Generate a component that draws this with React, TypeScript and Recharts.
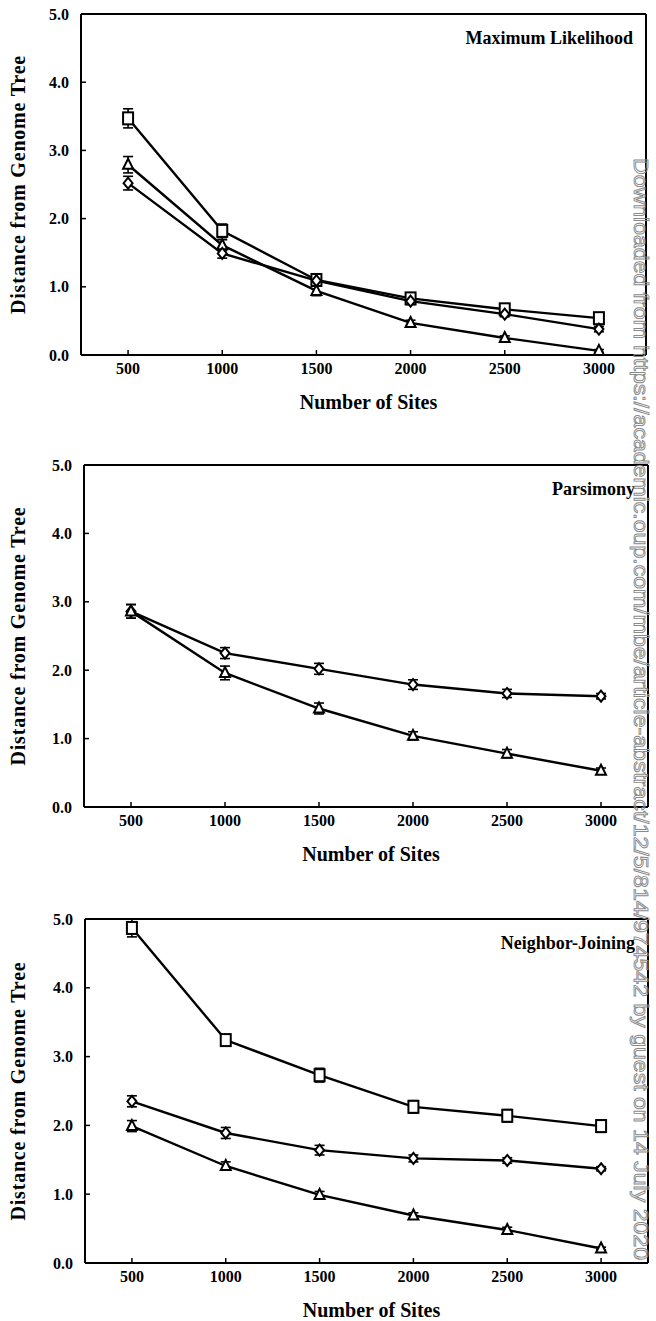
import React from 'react';
import { LineChart, Line, XAxis, YAxis, ErrorBar } from 'recharts';

const sites = [500, 1000, 1500, 2000, 2500, 3000];
const yTicks = [0, 1, 2, 3, 4, 5];

// Maximum Likelihood
const mlSquare = [3.47, 1.82, 1.1, 0.83, 0.67, 0.54];
const mlSquareErr = [0.14, 0.1, 0.09, 0.06, 0.05, 0.06];
const mlTriangle = [2.79, 1.61, 0.94, 0.47, 0.25, 0.06];
const mlTriangleErr = [0.12, 0.08, 0.07, 0.04, 0.03, 0.02];
const mlDiamond = [2.52, 1.49, 1.09, 0.79, 0.6, 0.38];
const mlDiamondErr = [0.1, 0.07, 0.06, 0.05, 0.04, 0.04];

// Parsimony
const mpDiamond = [2.86, 2.25, 2.02, 1.79, 1.66, 1.62];
const mpDiamondErr = [0.1, 0.08, 0.08, 0.07, 0.06, 0.04];
const mpTriangle = [2.86, 1.96, 1.44, 1.04, 0.78, 0.53];
const mpTriangleErr = [0.1, 0.1, 0.08, 0.06, 0.06, 0.04];

// Neighbor-Joining
const njSquare = [4.87, 3.24, 2.73, 2.27, 2.14, 1.99];
const njSquareErr = [0.13, 0.08, 0.1, 0.09, 0.09, 0.09];
const njDiamond = [2.35, 1.89, 1.64, 1.52, 1.49, 1.37];
const njDiamondErr = [0.08, 0.08, 0.07, 0.05, 0.04, 0.03];
const njTriangle = [1.99, 1.41, 0.99, 0.69, 0.48, 0.21];
const njTriangleErr = [0.08, 0.06, 0.05, 0.04, 0.04, 0.02];

const watermark =
  'Downloaded from https://academic.oup.com/mbe/article-abstract/12/5/814/974542 by guest on 14 July 2020';

const FONT = '"Liberation Serif", "Times New Roman", serif';

const SquareDot = (p: any) => {
  const { cx, cy } = p;
  if (cx == null || cy == null) return null;
  return <rect x={cx - 5} y={cy - 6} width={10} height={12} fill="#fff" stroke="#000" strokeWidth={2} />;
};
const TriangleDot = (p: any) => {
  const { cx, cy } = p;
  if (cx == null || cy == null) return null;
  return <polygon points={`${cx},${cy - 6} ${cx + 5},${cy + 4} ${cx - 5},${cy + 4}`} fill="#fff" stroke="#000" strokeWidth={2} />;
};
const DiamondDot = (p: any) => {
  const { cx, cy } = p;
  if (cx == null || cy == null) return null;
  return <polygon points={`${cx},${cy - 5.5} ${cx + 4.5},${cy} ${cx},${cy + 5.5} ${cx - 4.5},${cy}`} fill="#fff" stroke="#000" strokeWidth={2} />;
};

const shapes: Record<string, any> = { sq: SquareDot, tri: TriangleDot, dia: DiamondDot };

const XTitle = (p: any) => {
  const vb = p.viewBox || {};
  return (
    <text x={vb.x + vb.width / 2 + 5} y={vb.y + 54} textAnchor="middle" fontFamily={FONT} fontWeight="bold" fontSize={20} fill="#000">
      Number of Sites
    </text>
  );
};

const YTitle = (p: any) => {
  const vb = p.viewBox || {};
  const cy = vb.y + vb.height / 2;
  return (
    <text x={25} y={cy} transform={`rotate(-90 25 ${cy})`} textAnchor="middle" fontFamily={FONT} fontWeight="bold" fontSize={20} letterSpacing={0.8} fill="#000">
      Distance from Genome Tree
    </text>
  );
};

const PanelTitle = (p: any) => {
  const vb = p.viewBox || {};
  return (
    <text x={vb.x + vb.width - 13} y={vb.y + 31} textAnchor="end" fontFamily={FONT} fontWeight="bold" fontSize={18} fill="#000">
      {p.text}
    </text>
  );
};

type Series = { key: string; values: number[]; errors: number[] };

function Panel({ top, height, plotTop, plotBottom, left, right, title, series }: {
  top: number; height: number; plotTop: number; plotBottom: number; left: number; right: number; title: string; series: Series[];
}) {
  const data = sites.map((s, i) => {
    const row: any = { sites: s };
    series.forEach((sr) => {
      row[sr.key] = sr.values[i];
      row[sr.key + 'Err'] = sr.errors[i];
    });
    return row;
  });
  // the top and right frame axes are 1px thick (zero-size axes are not drawn)
  const mTop = plotTop - top - 1;
  const xAxisH = 30;
  const mBottom = height - (plotBottom - top) - xAxisH;
  const tickStyle = { fill: '#000', fontSize: 16, fontWeight: 700, fontFamily: FONT };
  const axisLine = { stroke: '#000', strokeWidth: 2 };
  const tickLine = { stroke: '#000', strokeWidth: 1.5 };
  return (
    <div style={{ position: 'absolute', left: 0, top }}>
      <LineChart width={656} height={height} data={data} margin={{ top: mTop, right: 656 - right - 1, bottom: mBottom, left: 0 }}>
        <XAxis
          dataKey="sites"
          type="number"
          domain={[250, 3250]}
          ticks={sites}
          height={xAxisH}
          axisLine={axisLine}
          tickLine={tickLine}
          tickSize={-5}
          tickMargin={13}
          tick={tickStyle}
          label={<XTitle />}
        />
        <XAxis
          xAxisId="top"
          dataKey="sites"
          orientation="top"
          type="number"
          domain={[250, 3250]}
          ticks={sites}
          height={1}
          axisLine={axisLine}
          tickLine={tickLine}
          tickSize={-5}
          tick={false}
          label={<PanelTitle text={title} />}
        />
        <YAxis
          type="number"
          domain={[0, 5]}
          ticks={yTicks}
          width={left}
          axisLine={axisLine}
          tickLine={tickLine}
          tickSize={-5}
          tickMargin={17}
          tick={tickStyle}
          tickFormatter={(v: number) => v.toFixed(1)}
          label={<YTitle />}
        />
        <YAxis
          yAxisId="right"
          orientation="right"
          type="number"
          domain={[0, 5]}
          ticks={yTicks}
          width={1}
          axisLine={axisLine}
          tickLine={tickLine}
          tickSize={-5}
          tick={false}
        />
        {/* invisible series bound to the frame axes */}
        <Line
          xAxisId="top"
          yAxisId="right"
          dataKey={series[0].key}
          stroke="none"
          dot={false}
          activeDot={false}
          legendType="none"
          isAnimationActive={false}
        />
        {series.map((sr) => {
          const Shape = shapes[sr.key];
          return (
            <Line
              key={sr.key}
              dataKey={sr.key}
              type="linear"
              stroke="#000"
              strokeWidth={2.4}
              isAnimationActive={false}
              dot={(p: any) => <Shape key={`${sr.key}-${p.index}`} {...p} />}
              activeDot={false}
            >
              <ErrorBar dataKey={sr.key + 'Err'} direction="y" width={5} stroke="#000" strokeWidth={1.6} />
            </Line>
          );
        })}
      </LineChart>
    </div>
  );
}

export default function App() {
  return (
    <div style={{ position: 'absolute', left: 0, top: 0, width: 656, height: 1321, background: '#fff', overflow: 'hidden' }}>
      <Panel
        top={0}
        height={440}
        plotTop={14}
        plotBottom={355}
        left={81}
        right={646}
        title="Maximum Likelihood"
        series={[
          { key: 'sq', values: mlSquare, errors: mlSquareErr },
          { key: 'tri', values: mlTriangle, errors: mlTriangleErr },
          { key: 'dia', values: mlDiamond, errors: mlDiamondErr },
        ]}
      />
      <Panel
        top={451}
        height={440}
        plotTop={465}
        plotBottom={807}
        left={84}
        right={648}
        title="Parsimony"
        series={[
          { key: 'dia', values: mpDiamond, errors: mpDiamondErr },
          { key: 'tri', values: mpTriangle, errors: mpTriangleErr },
        ]}
      />
      <Panel
        top={905}
        height={416}
        plotTop={919}
        plotBottom={1263}
        left={85}
        right={648}
        title="Neighbor-Joining"
        series={[
          { key: 'sq', values: njSquare, errors: njSquareErr },
          { key: 'dia', values: njDiamond, errors: njDiamondErr },
          { key: 'tri', values: njTriangle, errors: njTriangleErr },
        ]}
      />
      {/* publisher's download stamp along the right edge */}
      <svg width={656} height={1321} style={{ position: 'absolute', left: 0, top: 0, pointerEvents: 'none' }}>
        <text
          x={634}
          y={158}
          transform="rotate(90 634 158)"
          fontFamily='"Liberation Sans", Arial, sans-serif'
          fontSize={21}
          fill="#fff"
          fillOpacity={0}
          stroke="#8a8a8a"
          strokeWidth={0.9}
          textLength={1102}
          lengthAdjust="spacingAndGlyphs"
        >
          {watermark}
        </text>
      </svg>
    </div>
  );
}
